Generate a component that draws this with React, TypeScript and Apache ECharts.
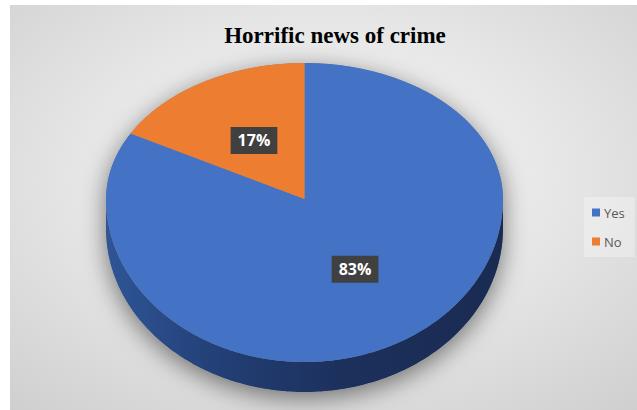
import React, { useEffect, useRef } from "react";
import * as echarts from "echarts";

const categories = ["Yes", "No"];
const values = [83, 17];
const colors = ["#4472C4", "#ED7D31"];
const titleText = "Horrific news of crime";

// geometry (chart coordinates)
const CX = 294.5;
const AY = 194; // apex / projected centre
const RX = 198.5;
const RY_BACK = 136;
const RY_FRONT = 163;
const DEPTH = 30;

const total = values.reduce((a, b) => a + b, 0);

function pt(deg: number, dy = 0) {
  const r = (deg * Math.PI) / 180;
  const c = Math.cos(r);
  const ry = c > 0 ? RY_BACK : RY_FRONT;
  return [CX + RX * Math.sin(r), AY - ry * c + dy];
}

function makeRenderItem(idx: number) {
  return (params: any, api: any) => {
    const before = values.slice(0, idx).reduce((a, b) => a + b, 0);
    const v = api.value(0);
    const start = (before / total) * 360;
    const end = ((before + v) / total) * 360;
    const children: any[] = [];

    if (idx === 0) {
      const sil: number[][] = [];
      for (let a = 0; a <= 360; a += 2) {
        sil.push(pt(a, a > 90 && a < 270 ? DEPTH : 0));
      }
      children.push({
        type: "polygon",
        shape: { points: sil },
        style: {
          fill: "#888",
          shadowBlur: 24,
          shadowColor: "rgba(0,0,0,0.5)",
          shadowOffsetY: 6,
        },
      });
    }

    // side (front visible part 90..270)
    const s0 = Math.max(start, 90);
    const s1 = Math.min(end, 270);
    if (s1 > s0) {
      const topPts: number[][] = [];
      const botPts: number[][] = [];
      for (let a = s0; a <= s1 + 1e-6; a += 1) {
        topPts.push(pt(Math.min(a, s1)));
        botPts.push(pt(Math.min(a, s1), DEPTH));
      }
      children.push({
        type: "polygon",
        shape: { points: topPts.concat(botPts.reverse()) },
        style: {
          fill: new echarts.graphic.LinearGradient(0, 0, 1, 0, [
            { offset: 0, color: "#2F5597" },
            { offset: 0.3, color: "#223E74" },
            { offset: 0.6, color: "#1C305C" },
            { offset: 1, color: "#1A2B52" },
          ]),
        },
      });
    }

    // top face
    const pts: number[][] = [[CX, AY]];
    for (let a = start; a <= end + 1e-6; a += 0.5) pts.push(pt(Math.min(a, end)));
    pts.push(pt(end));
    children.push({
      type: "polygon",
      shape: { points: pts },
      style: { fill: colors[idx] },
    });

    // label
    const mid = ((start + end) / 2) * (Math.PI / 180);
    const f = 0.5;
    const c = Math.cos(mid);
    const lx = CX + RX * f * Math.sin(mid);
    const ly = AY - (c > 0 ? RY_BACK : RY_FRONT) * f * c;
    children.push({
      type: "text",
      x: lx,
      y: ly,
      style: {
        text: Math.round((v / total) * 100) + "%",
        align: "center",
        verticalAlign: "middle",
        fill: "#FFFFFF",
        font: 'bold 16px "Open Sans", sans-serif',
        backgroundColor: "#404040",
        padding: [6, 7, 5, 7],
        boxShadowBlur: 4,
        boxShadowColor: "rgba(0,0,0,0.45)",
        boxShadowOffsetX: 2,
        boxShadowOffsetY: 2,
      },
    });

    return { type: "group", children };
  };
}

export default function App() {
  const ref = useRef<HTMLDivElement>(null);
  useEffect(() => {
    if (!ref.current) return;
    const chart = echarts.init(ref.current, null, { renderer: "svg" });
    chart.setOption({
      animation: false,
      backgroundColor: new echarts.graphic.RadialGradient(0.5, 0.42, 0.8, [
        { offset: 0, color: "#FAFAFA" },
        { offset: 0.5, color: "#E5E5E5" },
        { offset: 1, color: "#CDCDCD" },
      ]),
      title: {
        text: titleText,
        left: 320,
        top: 14,
        textAlign: "center",
        textStyle: {
          fontFamily: '"Liberation Serif", "Times New Roman", serif',
          fontWeight: "bold",
          fontSize: 23,
          color: "#000000",
        },
      },
      legend: {
        data: categories,
        orient: "vertical",
        left: 574,
        top: 192,
        padding: [9, 10, 9, 8],
        backgroundColor: "rgba(255,255,255,0.3)",
        itemWidth: 8,
        itemHeight: 8,
        itemGap: 16,
        icon: "rect",
        textStyle: {
          fontFamily: '"Open Sans", sans-serif',
          fontSize: 13,
          color: "#595959",
          padding: [0, 0, 0, -1],
        },
      },
      series: categories.map((name, i) => ({
        type: "custom",
        name,
        coordinateSystem: "none",
        itemStyle: { color: colors[i] },
        data: [[values[i]]],
        renderItem: makeRenderItem(i),
        silent: true,
      })),
    });
    return () => chart.dispose();
  }, []);
  return (
    <div
      ref={ref}
      style={{ position: "absolute", left: 10, top: 5, width: 627, height: 405 }}
    />
  );
}
